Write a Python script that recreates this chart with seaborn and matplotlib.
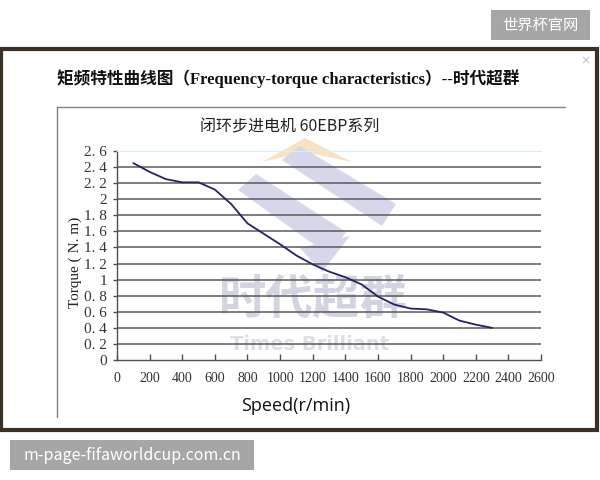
"""Frequency-torque curve of the 60EBP closed-loop stepper motor."""

import matplotlib

matplotlib.use("Agg")
import pandas as pd
import seaborn as sns
from matplotlib import pyplot as plt
from matplotlib.lines import Line2D
from matplotlib.patches import Polygon, Rectangle

# Curve
SPEED = [100, 200, 300, 400, 500, 600, 700, 800, 900, 1000, 1100, 1200,
         1300, 1400, 1500, 1600, 1700, 1800, 1900, 2000, 2100, 2200, 2300]
TORQUE = [2.45, 2.34, 2.25, 2.21, 2.21, 2.12, 1.94, 1.70, 1.57, 1.44, 1.30,
          1.19, 1.10, 1.03, 0.94, 0.79, 0.69, 0.64, 0.63, 0.59, 0.49, 0.44,
          0.40]

X_TICKS = list(range(0, 2601, 200))
Y_TICKS = [0, 0.2, 0.4, 0.6, 0.8, 1, 1.2, 1.4, 1.6, 1.8, 2, 2.2, 2.4, 2.6]
Y_TICK_LABELS = ["0", "0. 2", "0. 4", "0. 6", "0. 8", "1", "1. 2", "1. 4",
                 "1. 6", "1. 8", "2", "2. 2", "2. 4", "2. 6"]

TITLE = "矩频特性曲线图（Frequency-torque characteristics）--时代超群"
SUBTITLE = "闭环步进电机 60EBP系列"

W, H = 600, 480


def _fx(px):
    return px / W


def _fy(py):
    return 1 - py / H


def _poly(fig, pts, color):
    fig.add_artist(Polygon([(_fx(x), _fy(y)) for x, y in pts], closed=True,
                           transform=fig.transFigure, facecolor=color,
                           edgecolor="none", zorder=-2))


def _main():
    sns.set_style("white")
    plt.rcParams["font.family"] = ["Liberation Serif", "Noto Sans CJK SC"]

    fig = plt.figure(figsize=(6, 4.8), dpi=100)
    fig.patch.set_facecolor("white")

    # photo frame
    fig.add_artist(Rectangle((_fx(1), _fy(430)), _fx(596), 381 / H,
                             transform=fig.transFigure, facecolor="white",
                             edgecolor="#3b3026", linewidth=3, zorder=-5))
    # chart box lines
    fig.add_artist(Line2D([_fx(57), _fx(565)], [_fy(107), _fy(107)],
                          transform=fig.transFigure, color="#808080", lw=1))
    fig.add_artist(Line2D([_fx(57), _fx(57)], [_fy(107), _fy(417)],
                          transform=fig.transFigure, color="#808080", lw=1))

    # watermark logo
    wm = "#d6d7ea"
    _poly(fig, [(262, 162), (305, 138), (352, 162), (305, 152)], "#f8e2c4")
    _poly(fig, [(282, 160), (300, 146), (396, 204), (382, 226)], wm)
    _poly(fig, [(238, 190), (256, 174), (346, 232), (330, 256)], wm)
    _poly(fig, [(300, 248), (350, 236), (322, 272)], wm)
    fig.text(_fx(313), _fy(300), "时代超群", ha="center", va="center",
             fontsize=34, fontweight="bold", color="#d2d4e2",
             family=["Noto Sans CJK SC"], zorder=-2)
    fig.text(_fx(310), _fy(345), "Times Brilliant", ha="center",
             va="center", fontsize=14, fontweight="bold", color="#dcdee6",
             family=["DejaVu Sans"], zorder=-2)

    ax = fig.add_axes((_fx(117), _fy(360), (541 - 117) / W, (360 - 151) / H))
    ax.set_facecolor("none")

    df = pd.DataFrame({"speed": SPEED, "torque": TORQUE})
    sns.lineplot(data=df, x="speed", y="torque", ax=ax, color="#23236b",
                 linewidth=1.3, zorder=3)

    ax.set_xlim(0, 2600)
    ax.set_ylim(0, 2.6)
    ax.set_xticks(X_TICKS)
    ax.set_xticklabels([str(t) for t in X_TICKS])
    ax.set_yticks(Y_TICKS)
    ax.set_yticklabels(Y_TICK_LABELS)
    for y in Y_TICKS[1:-1]:
        ax.axhline(y, color="#5a5a5a", linewidth=1.1, zorder=1)

    for side in ("left", "bottom"):
        ax.spines[side].set_color("#505050")
        ax.spines[side].set_linewidth(1)
    ax.spines["top"].set_color("#d8f0f0")
    ax.spines["right"].set_visible(False)

    ax.tick_params(axis="x", direction="in", length=4, width=1,
                   color="#505050", labelsize=10, pad=9, labelcolor="#333333")
    ax.tick_params(axis="y", direction="out", length=3, width=1,
                   color="#505050", labelsize=11, pad=4, labelcolor="#333333")
    ax.tick_params(axis="x", bottom=True)
    ax.tick_params(axis="y", left=True)

    ax.set_xlabel("")
    ax.set_ylabel("")
    fig.text(_fx(75), _fy(262), "Torque ( N. m)", rotation=90, ha="center",
             va="center", fontsize=11, color="#222222")
    fig.text(_fx(296), _fy(406), "Speed(r/min)", ha="center", va="center",
             fontsize=13, color="#111111", family=["Open Sans"])

    fig.text(_fx(57), _fy(79), TITLE, ha="left", va="center", fontsize=12,
             fontweight="bold", color="#111111")
    fig.text(_fx(290), _fy(127), SUBTITLE, ha="center", va="center",
             fontsize=11.5, color="#222222",
             family=["Noto Sans CJK SC", "DejaVu Sans"])

    # close icon in the corner
    fig.text(_fx(586), _fy(61), "×", ha="center", va="center", fontsize=9,
             color="#c0c0c0", family=["DejaVu Sans"])

    # grey captions
    fig.add_artist(Rectangle((_fx(491), _fy(40)), 99 / W, 30 / H,
                             transform=fig.transFigure, facecolor="#a6a6a6",
                             edgecolor="none"))
    fig.text(_fx(540.5), _fy(25), "世界杯官网", ha="center", va="center",
             fontsize=11, color="white",
             family=["Noto Sans CJK SC", "DejaVu Sans"])
    fig.add_artist(Rectangle((_fx(10), _fy(470)), 244 / W, 30 / H,
                             transform=fig.transFigure, facecolor="#a6a6a6",
                             edgecolor="none"))
    fig.text(_fx(132), _fy(455), "m-page-fifaworldcup.com.cn", ha="center",
             va="center", fontsize=11.5, color="white",
             family=["Noto Sans CJK SC", "DejaVu Sans"])

    fig.savefig("out.png", dpi=100)


if __name__ == "__main__":
    _main()
